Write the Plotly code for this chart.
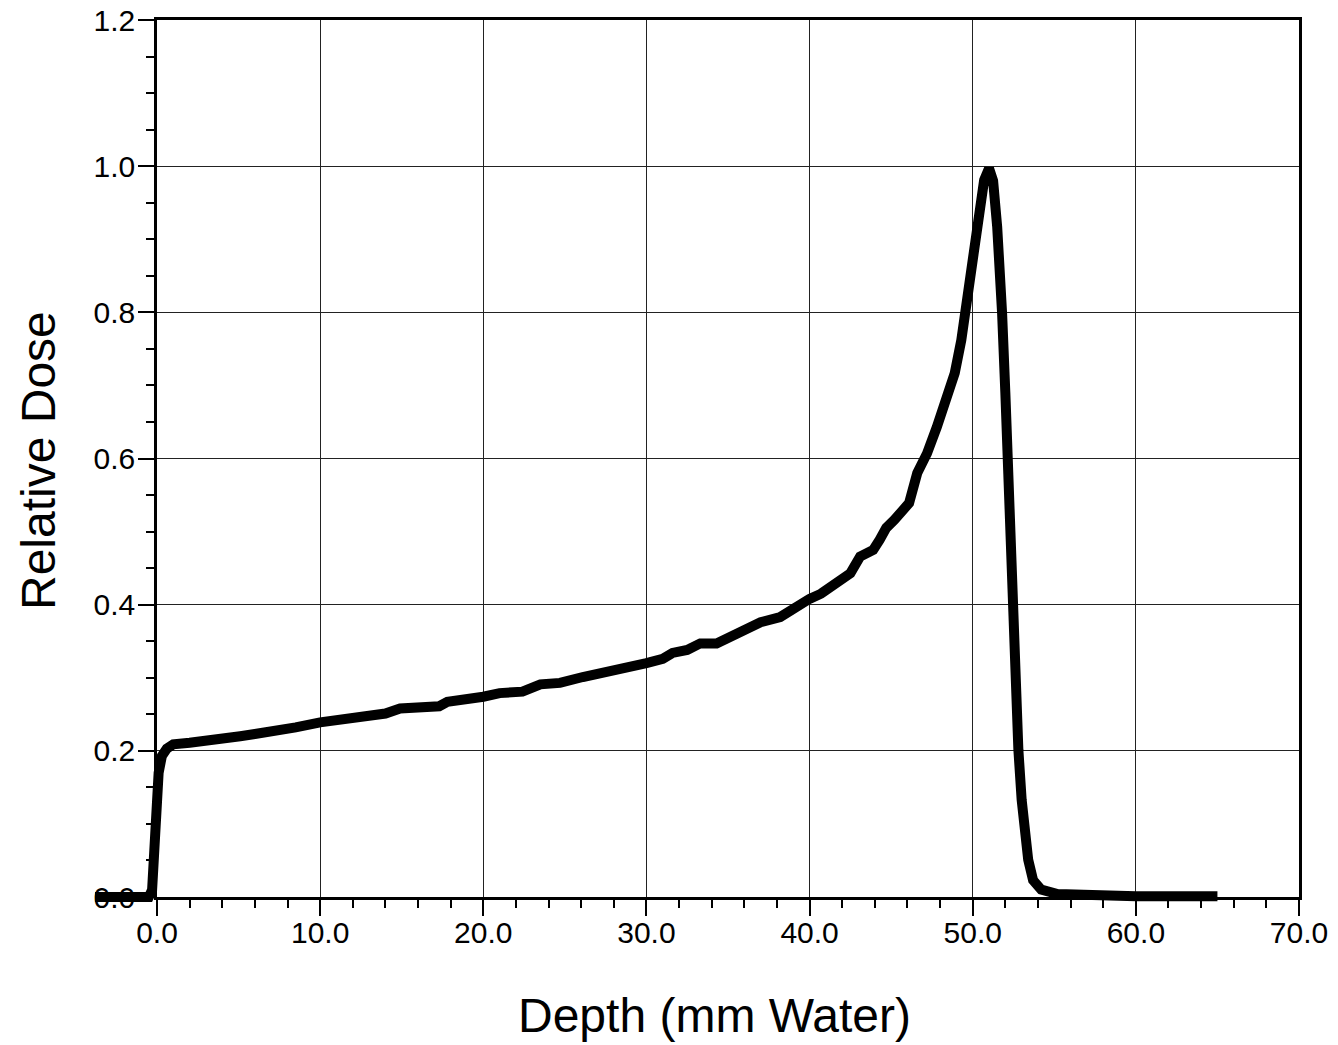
import plotly.graph_objects as go

# ---- data ----
depth_mm = [-3.8, -1.0, -0.5, -0.3, -0.15, 0.0, 0.1, 0.3, 0.6, 1.0, 2.0, 3.0, 4.0, 5.1, 6.0,
            7.5, 8.5, 10.0, 11.2, 12.0, 13.2, 14.0, 14.9, 16.0, 17.3, 17.8, 19.0, 20.0, 21.0,
            22.4, 23.5, 24.7, 26.1, 27.3, 28.6, 30.0, 31.0, 31.6, 32.5, 33.3, 34.3, 35.3,
            36.2, 37.0, 38.2, 39.0, 40.0, 40.7, 41.3, 42.0, 42.5, 43.1, 43.9, 44.3, 44.7,
            45.2, 45.7, 46.1, 46.6, 47.2, 47.8, 48.4, 48.9, 49.3, 49.6, 49.8, 50.1, 50.4,
            50.7, 51.0, 51.25, 51.5, 51.6, 51.8, 52.0, 52.2, 52.3, 52.5, 52.6, 52.8, 53.0,
            53.2, 53.4, 53.7, 54.2, 55.2, 57.0, 60.0, 65.0]
rel_dose = [0.0, 0.0, 0.0, 0.01, 0.05, 0.13, 0.17, 0.193, 0.203, 0.209, 0.211, 0.215, 0.218,
            0.220, 0.223, 0.227, 0.232, 0.239, 0.242, 0.245, 0.249, 0.251, 0.258, 0.259, 0.261,
            0.267, 0.270, 0.274, 0.279, 0.281, 0.291, 0.293, 0.301, 0.306, 0.313, 0.320, 0.326,
            0.334, 0.338, 0.347, 0.347, 0.359, 0.367, 0.376, 0.383, 0.395, 0.408, 0.415, 0.424,
            0.432, 0.443, 0.466, 0.475, 0.489, 0.505, 0.516, 0.528, 0.539, 0.580, 0.607, 0.643,
            0.680, 0.717, 0.762, 0.807, 0.848, 0.889, 0.936, 0.981, 0.997, 0.980, 0.917, 0.848,
            0.799, 0.690, 0.553, 0.500, 0.397, 0.315, 0.201, 0.133, 0.088, 0.051, 0.023, 0.010,
            0.004, 0.002, 0.001, 0.001]

x_tick_vals = [0, 10, 20, 30, 40, 50, 60, 70]
x_tick_text = ["0.0", "10.0", "20.0", "30.0", "40.0", "50.0", "60.0", "70.0"]
y_tick_vals = [0.0, 0.2, 0.4, 0.6, 0.8, 1.0, 1.2]
y_tick_text = ["0.0", "0.2", "0.4", "0.6", "0.8", "1.0", "1.2"]

# ---- layout geometry (page pixels; body margin is removed after plotting) ----
W, H = 1338, 1045
PX_L, PX_R, PX_B, PX_T = 157, 1299, 897, 20
X_MIN, X_MAX, Y_MIN, Y_MAX = 0, 70, 0, 1.2
EPS_X, EPS_Y = 1e-6, 1e-6
sx = (PX_R - PX_L) / (X_MAX - X_MIN)
sy = (PX_B - PX_T) / (Y_MAX - Y_MIN)

x_dom = [PX_L / W, PX_R / W]
y_dom = [1 - PX_B / H, 1 - PX_T / H]
# data subplot extends a bit beyond the frame so the thick line is not clipped
X2_MIN, X2_MAX, Y2_MIN, Y2_MAX = -4.0, 71.0, -0.015, 1.21
x2_dom = [(PX_L + (X2_MIN - X_MIN) * sx) / W, (PX_R + (X2_MAX - X_MAX) * sx) / W]
y2_dom = [1 - (PX_B + (Y_MIN - Y2_MIN) * sy) / H, 1 - (PX_T - (Y2_MAX - Y_MAX) * sy) / H]

tick_font = dict(family="Liberation Sans, Arial", size=30, color="black")
title_font = dict(family="Liberation Sans, Arial", size=48, color="black")

fig = go.Figure()
# empty trace so the framed axes subplot is drawn
fig.add_trace(go.Scatter(x=[], y=[], xaxis="x", yaxis="y", mode="lines", showlegend=False,
                         hoverinfo="skip"))
fig.add_trace(go.Scatter(x=depth_mm, y=rel_dose, mode="lines", xaxis="x2", yaxis="y2",
                         line=dict(color="black", width=10), showlegend=False))

common = dict(showline=True, linecolor="black", linewidth=2.5, mirror=True,
              ticks="outside", ticklen=16, tickwidth=2, tickcolor="black",
              showgrid=True, gridcolor="#222222", gridwidth=1.3,
              zeroline=False, tickfont=tick_font, automargin=False, fixedrange=True,
              ticklabeloverflow="allow")

fig.update_layout(
    width=W, height=H,
    margin=dict(l=0, r=0, t=0, b=0, pad=0),
    paper_bgcolor="white", plot_bgcolor="rgba(0,0,0,0)",
    xaxis=dict(domain=x_dom, range=[X_MIN - EPS_X, X_MAX + EPS_X], anchor="y",
               tickmode="array", tickvals=x_tick_vals, ticktext=x_tick_text,
               ticklabelstandoff=-9,
               minor=dict(dtick=2, ticklen=8, tickwidth=1.5, tickcolor="black",
                          ticks="outside", showgrid=False),
               **common),
    yaxis=dict(domain=y_dom, range=[Y_MIN - EPS_Y, Y_MAX + EPS_Y], anchor="x",
               tickmode="array", tickvals=y_tick_vals, ticktext=y_tick_text,
               ticklabelstandoff=-3,
               minor=dict(dtick=0.05, ticklen=8, tickwidth=1.5, tickcolor="black",
                          ticks="outside", showgrid=False),
               **common),
    xaxis2=dict(domain=x2_dom, range=[X2_MIN, X2_MAX], anchor="y2", visible=False,
                fixedrange=True),
    yaxis2=dict(domain=y2_dom, range=[Y2_MIN, Y2_MAX], anchor="x2", visible=False,
                fixedrange=True),
    annotations=[
        dict(text="Depth (mm Water)", xref="paper", yref="paper",
             x=714 / W, y=1 - 1015 / H, xanchor="center", yanchor="middle",
             showarrow=False, font=title_font),
        dict(text="Relative Dose", xref="paper", yref="paper",
             x=38 / W, y=1 - 461 / H, xanchor="center", yanchor="middle",
             textangle=-90, showarrow=False, font=title_font),
    ],
)

fig.write_html("out.html",
               config={"displayModeBar": False},
               post_script="document.body.style.margin='0';document.body.style.overflow='hidden';")
